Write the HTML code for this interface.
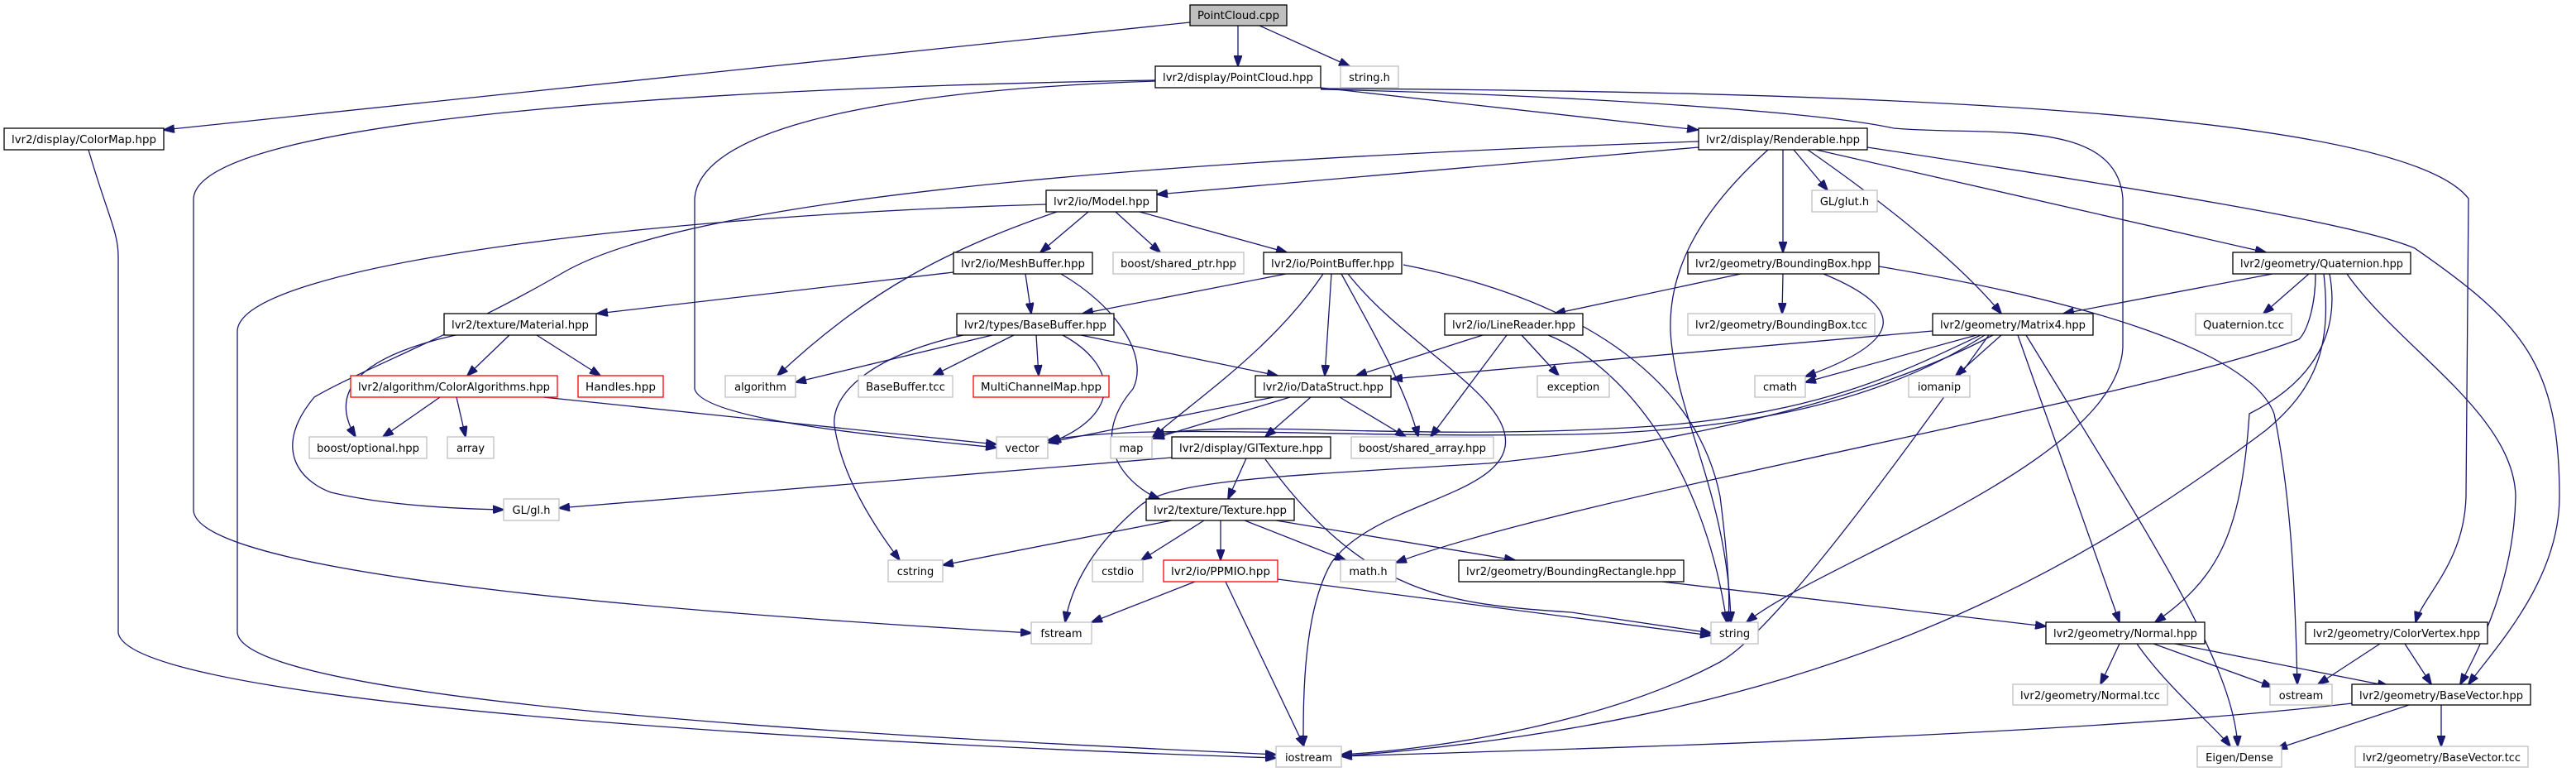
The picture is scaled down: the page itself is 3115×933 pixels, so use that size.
<!DOCTYPE html>
<html><head><meta charset="utf-8"><style>
html,body{margin:0;padding:0;background:#fff;}
svg{display:block;}
text{font-family:"DejaVu Sans","Liberation Sans",sans-serif;font-size:13px;fill:#000;}
.e{fill:none;stroke:#191970;stroke-width:1.3;marker-end:url(#a);}
</style></head><body>
<svg width="3115" height="933" viewBox="0 0 3115 933" xmlns="http://www.w3.org/2000/svg">
<defs><marker id="a" markerUnits="userSpaceOnUse" markerWidth="14" markerHeight="10" refX="13" refY="5" orient="auto"><path d="M0,0 L14,5 L0,10z" fill="#191970" stroke="#191970"/></marker></defs>
<g>
<path class="e" d="M1439,27 L198,157"/>
<path class="e" d="M1497,31 L1497,80"/>
<path class="e" d="M1523,31 L1632,80"/>
<path class="e" d="M1597,106 L2053,157"/>
<path class="e" d="M1397,97 C900,105 240,140 234,240 L234,617 C240,700 900,745 1247,765"/>
<path class="e" d="M1397,98 C1000,112 845,170 840,240 L840,470 C850,510 1100,530 1205,541"/>
<path class="e" d="M1597,108 C1900,115 2200,135 2290,155 C2400,165 2560,140 2567,240 L2567,420 C2560,560 2200,680 2112,752"/>
<path class="e" d="M1597,107 C2200,110 2900,130 2985,240 L2982,600 C2980,680 2930,720 2921,752"/>
<path class="e" d="M2054,178 L1399,235"/>
<path class="e" d="M2054,171 C1500,190 850,230 680,330 C560,400 430,450 380,480 C330,540 360,580 400,595 C470,612 560,615 609,616"/>
<path class="e" d="M1265,247 C800,260 290,320 287,400 L287,765 C300,860 1300,900 1543,912"/>
<path class="e" d="M107,181 C130,260 143,280 143,310 L143,765 C160,860 1200,905 1543,916"/>
<path class="e" d="M2156,181 L2156,305"/>
<path class="e" d="M2169,181 L2210,230"/>
<path class="e" d="M2186,181 C2300,260 2380,330 2420,379"/>
<path class="e" d="M2196,181 L2740,305"/>
<path class="e" d="M2258,178 C2600,230 2850,270 2920,300 C3050,390 3095,440 3095,600 C3095,700 3020,780 2985,827"/>
<path class="e" d="M2138,181 C2050,260 2018,330 2020,400 C2025,500 2090,600 2093,752"/>
<path class="e" d="M1316,256 L1258,305"/>
<path class="e" d="M1349,256 L1403,305"/>
<path class="e" d="M1378,256 L1556,305"/>
<path class="e" d="M1278,256 C1150,300 1050,350 940,454"/>
<path class="e" d="M1153,329 L722,379"/>
<path class="e" d="M1240,331 L1247,379"/>
<path class="e" d="M1283,331 C1350,370 1390,430 1370,470 C1310,540 1370,590 1402,603"/>
<path class="e" d="M1200,405 L962,462"/>
<path class="e" d="M1226,405 L1128,454"/>
<path class="e" d="M1253,405 L1256,454"/>
<path class="e" d="M1285,405 C1350,440 1360,500 1270,535"/>
<path class="e" d="M1307,405 L1545,454"/>
<path class="e" d="M1165,405 C1050,430 1000,480 1010,520 C1020,580 1060,640 1088,677"/>
<path class="e" d="M1555,331 L1309,379"/>
<path class="e" d="M1600,331 C1540,420 1450,480 1394,528"/>
<path class="e" d="M1610,331 L1602,454"/>
<path class="e" d="M1622,331 C1660,400 1700,470 1715,528"/>
<path class="e" d="M1630,331 C1700,420 1830,480 1820,540 C1810,600 1660,610 1610,680 C1575,740 1576,850 1576,902"/>
<path class="e" d="M1697,320 C1900,360 2050,450 2080,600 C2090,680 2092,720 2090,752"/>
<path class="e" d="M616,405 L565,454"/>
<path class="e" d="M649,405 L726,454"/>
<path class="e" d="M551,405 C440,430 395,470 430,528"/>
<path class="e" d="M532,480 L463,528"/>
<path class="e" d="M552,480 L563,528"/>
<path class="e" d="M657,480 L1205,537"/>
<path class="e" d="M1540,480 L1267,535"/>
<path class="e" d="M1560,480 L1395,530"/>
<path class="e" d="M1585,480 L1530,528"/>
<path class="e" d="M1620,480 L1700,528"/>
<path class="e" d="M1793,405 L1640,454"/>
<path class="e" d="M1822,405 L1730,528"/>
<path class="e" d="M1840,405 L1885,454"/>
<path class="e" d="M1872,405 C1960,440 2060,560 2088,752"/>
<path class="e" d="M2105,331 L1880,379"/>
<path class="e" d="M2156,331 L2155,379"/>
<path class="e" d="M2205,331 C2300,370 2310,410 2183,455"/>
<path class="e" d="M2272,322 C2500,360 2720,420 2750,500 C2770,600 2775,700 2778,827"/>
<path class="e" d="M1417,553 L676,614"/>
<path class="e" d="M1507,554 L1485,603"/>
<path class="e" d="M1530,555 C1650,720 1750,730 1900,740 C2000,755 2050,762 2069,765"/>
<path class="e" d="M1417,629 L1140,683"/>
<path class="e" d="M1456,629 L1380,677"/>
<path class="e" d="M1476,629 L1476,677"/>
<path class="e" d="M1505,629 L1627,677"/>
<path class="e" d="M1543,629 L1832,677"/>
<path class="e" d="M1445,703 L1320,752"/>
<path class="e" d="M1482,703 L1577,902"/>
<path class="e" d="M1545,700 L2069,768"/>
<path class="e" d="M2010,703 L2474,757"/>
<path class="e" d="M2337,400 L1683,458"/>
<path class="e" d="M2390,405 L2183,462"/>
<path class="e" d="M2395,405 C2300,450 2200,500 2000,515 C1700,535 1500,505 1395,526"/>
<path class="e" d="M2400,405 C2300,470 2150,520 1900,525 C1600,530 1400,510 1267,532"/>
<path class="e" d="M2410,405 C2250,490 2000,540 1800,560 C1550,575 1420,580 1380,610 C1320,660 1295,710 1288,752"/>
<path class="e" d="M2420,405 L2365,454"/>
<path class="e" d="M2405,405 C2300,550 2150,760 2080,800 C1950,870 1750,905 1622,912"/>
<path class="e" d="M2440,405 L2563,752"/>
<path class="e" d="M2450,405 C2600,650 2700,800 2706,902"/>
<path class="e" d="M2748,331 L2495,379"/>
<path class="e" d="M2792,331 L2737,379"/>
<path class="e" d="M2800,331 C2800,370 2790,400 2780,410 C2600,480 1900,600 1688,680"/>
<path class="e" d="M2810,331 C2820,420 2800,470 2740,520 C2500,700 2200,870 1622,914"/>
<path class="e" d="M2817,331 C2830,400 2800,460 2720,500 C2710,650 2680,700 2606,752"/>
<path class="e" d="M2838,331 C2900,420 3040,500 3042,600 C3040,700 3000,780 2975,827"/>
<path class="e" d="M2563,778 L2540,827"/>
<path class="e" d="M2584,778 C2620,830 2680,880 2697,902"/>
<path class="e" d="M2604,778 L2748,830"/>
<path class="e" d="M2630,778 L2888,829"/>
<path class="e" d="M2878,778 L2803,827"/>
<path class="e" d="M2908,778 L2940,827"/>
<path class="e" d="M2844,850 C2500,890 1900,905 1622,914"/>
<path class="e" d="M2913,852 L2753,905"/>
<path class="e" d="M2952,852 L2952,902"/>
</g>
<g stroke-width="1.3">
<rect x="1439" y="6" width="117" height="25" fill="#bfbfbf" stroke="#000"/><text x="1497.5" y="23" text-anchor="middle" textLength="99" lengthAdjust="spacingAndGlyphs">PointCloud.cpp</text>
<rect x="5" y="155" width="193" height="26" fill="#fff" stroke="#000"/><text x="101.5" y="173" text-anchor="middle" textLength="175" lengthAdjust="spacingAndGlyphs">lvr2/display/ColorMap.hpp</text>
<rect x="1397" y="80" width="200" height="26" fill="#fff" stroke="#000"/><text x="1497" y="98" text-anchor="middle" textLength="182" lengthAdjust="spacingAndGlyphs">lvr2/display/PointCloud.hpp</text>
<rect x="2054" y="155" width="204" height="26" fill="#fff" stroke="#000"/><text x="2156" y="173" text-anchor="middle" textLength="186" lengthAdjust="spacingAndGlyphs">lvr2/display/Renderable.hpp</text>
<rect x="1265" y="230" width="134" height="26" fill="#fff" stroke="#000"/><text x="1332" y="248" text-anchor="middle" textLength="116" lengthAdjust="spacingAndGlyphs">lvr2/io/Model.hpp</text>
<rect x="1153" y="305" width="168" height="26" fill="#fff" stroke="#000"/><text x="1237" y="323" text-anchor="middle" textLength="150" lengthAdjust="spacingAndGlyphs">lvr2/io/MeshBuffer.hpp</text>
<rect x="1528" y="305" width="167" height="26" fill="#fff" stroke="#000"/><text x="1611.5" y="323" text-anchor="middle" textLength="149" lengthAdjust="spacingAndGlyphs">lvr2/io/PointBuffer.hpp</text>
<rect x="2041" y="305" width="231" height="26" fill="#fff" stroke="#000"/><text x="2156.5" y="323" text-anchor="middle" textLength="213" lengthAdjust="spacingAndGlyphs">lvr2/geometry/BoundingBox.hpp</text>
<rect x="2700" y="305" width="215" height="26" fill="#fff" stroke="#000"/><text x="2807.5" y="323" text-anchor="middle" textLength="197" lengthAdjust="spacingAndGlyphs">lvr2/geometry/Quaternion.hpp</text>
<rect x="537" y="379" width="184" height="26" fill="#fff" stroke="#000"/><text x="629" y="397" text-anchor="middle" textLength="166" lengthAdjust="spacingAndGlyphs">lvr2/texture/Material.hpp</text>
<rect x="1157" y="379" width="190" height="26" fill="#fff" stroke="#000"/><text x="1252" y="397" text-anchor="middle" textLength="172" lengthAdjust="spacingAndGlyphs">lvr2/types/BaseBuffer.hpp</text>
<rect x="1747" y="379" width="167" height="26" fill="#fff" stroke="#000"/><text x="1830.5" y="397" text-anchor="middle" textLength="149" lengthAdjust="spacingAndGlyphs">lvr2/io/LineReader.hpp</text>
<rect x="2337" y="379" width="194" height="26" fill="#fff" stroke="#000"/><text x="2434" y="397" text-anchor="middle" textLength="176" lengthAdjust="spacingAndGlyphs">lvr2/geometry/Matrix4.hpp</text>
<rect x="1518" y="454" width="164" height="26" fill="#fff" stroke="#000"/><text x="1600" y="472" text-anchor="middle" textLength="146" lengthAdjust="spacingAndGlyphs">lvr2/io/DataStruct.hpp</text>
<rect x="1417" y="528" width="192" height="26" fill="#fff" stroke="#000"/><text x="1513" y="546" text-anchor="middle" textLength="174" lengthAdjust="spacingAndGlyphs">lvr2/display/GlTexture.hpp</text>
<rect x="1386" y="603" width="179" height="26" fill="#fff" stroke="#000"/><text x="1475.5" y="621" text-anchor="middle" textLength="161" lengthAdjust="spacingAndGlyphs">lvr2/texture/Texture.hpp</text>
<rect x="1764" y="677" width="272" height="26" fill="#fff" stroke="#000"/><text x="1900" y="695" text-anchor="middle" textLength="254" lengthAdjust="spacingAndGlyphs">lvr2/geometry/BoundingRectangle.hpp</text>
<rect x="2474" y="752" width="192" height="26" fill="#fff" stroke="#000"/><text x="2570" y="770" text-anchor="middle" textLength="174" lengthAdjust="spacingAndGlyphs">lvr2/geometry/Normal.hpp</text>
<rect x="2788" y="752" width="220" height="26" fill="#fff" stroke="#000"/><text x="2898" y="770" text-anchor="middle" textLength="202" lengthAdjust="spacingAndGlyphs">lvr2/geometry/ColorVertex.hpp</text>
<rect x="2844" y="827" width="216" height="25" fill="#fff" stroke="#000"/><text x="2952" y="845" text-anchor="middle" textLength="198" lengthAdjust="spacingAndGlyphs">lvr2/geometry/BaseVector.hpp</text>
<rect x="424" y="454" width="250" height="26" fill="#fff" stroke="#ff0000"/><text x="549" y="472" text-anchor="middle" textLength="232" lengthAdjust="spacingAndGlyphs">lvr2/algorithm/ColorAlgorithms.hpp</text>
<rect x="699" y="454" width="103" height="26" fill="#fff" stroke="#ff0000"/><text x="750.5" y="472" text-anchor="middle" textLength="85" lengthAdjust="spacingAndGlyphs">Handles.hpp</text>
<rect x="1177" y="454" width="164" height="26" fill="#fff" stroke="#ff0000"/><text x="1259" y="472" text-anchor="middle" textLength="146" lengthAdjust="spacingAndGlyphs">MultiChannelMap.hpp</text>
<rect x="1407" y="677" width="138" height="26" fill="#fff" stroke="#ff0000"/><text x="1476" y="695" text-anchor="middle" textLength="120" lengthAdjust="spacingAndGlyphs">lvr2/io/PPMIO.hpp</text>
<g fill="#fff" stroke="#bfbfbf">
<rect x="1621" y="80" width="70" height="26"/>
<rect x="1346" y="305" width="158" height="26"/>
<rect x="2191" y="230" width="79" height="26"/>
<rect x="2041" y="379" width="226" height="26"/>
<rect x="2655" y="379" width="116" height="26"/>
<rect x="877" y="454" width="85" height="26"/>
<rect x="1038" y="454" width="114" height="26"/>
<rect x="1859" y="454" width="87" height="26"/>
<rect x="2122" y="454" width="61" height="26"/>
<rect x="2308" y="454" width="74" height="26"/>
<rect x="374" y="528" width="142" height="26"/>
<rect x="541" y="528" width="56" height="26"/>
<rect x="1205" y="528" width="62" height="26"/>
<rect x="1343" y="528" width="50" height="26"/>
<rect x="1634" y="528" width="172" height="26"/>
<rect x="609" y="603" width="67" height="26"/>
<rect x="1074" y="677" width="66" height="26"/>
<rect x="1321" y="677" width="61" height="26"/>
<rect x="1621" y="677" width="67" height="26"/>
<rect x="1247" y="752" width="73" height="26"/>
<rect x="2069" y="752" width="57" height="26"/>
<rect x="2434" y="827" width="187" height="25"/>
<rect x="2745" y="827" width="75" height="25"/>
<rect x="1543" y="902" width="79" height="25"/>
<rect x="2657" y="902" width="102" height="25"/>
<rect x="2848" y="902" width="209" height="25"/>
</g>
<g text-anchor="middle">
<text x="1656" y="98">string.h</text>
<text x="1425" y="323" textLength="140" lengthAdjust="spacingAndGlyphs">boost/shared_ptr.hpp</text>
<text x="2230.5" y="248">GL/glut.h</text>
<text x="2154" y="397" textLength="208" lengthAdjust="spacingAndGlyphs">lvr2/geometry/BoundingBox.tcc</text>
<text x="2713" y="397" textLength="98" lengthAdjust="spacingAndGlyphs">Quaternion.tcc</text>
<text x="919.5" y="472">algorithm</text>
<text x="1095" y="472" textLength="96" lengthAdjust="spacingAndGlyphs">BaseBuffer.tcc</text>
<text x="1902.5" y="472">exception</text>
<text x="2152.5" y="472">cmath</text>
<text x="2345" y="472">iomanip</text>
<text x="445" y="546" textLength="124" lengthAdjust="spacingAndGlyphs">boost/optional.hpp</text>
<text x="569" y="546">array</text>
<text x="1236" y="546">vector</text>
<text x="1368" y="546">map</text>
<text x="1720" y="546" textLength="154" lengthAdjust="spacingAndGlyphs">boost/shared_array.hpp</text>
<text x="642.5" y="621">GL/gl.h</text>
<text x="1107" y="695">cstring</text>
<text x="1351.5" y="695">cstdio</text>
<text x="1654.5" y="695">math.h</text>
<text x="1283.5" y="770">fstream</text>
<text x="2097.5" y="770">string</text>
<text x="2527.5" y="845" textLength="169" lengthAdjust="spacingAndGlyphs">lvr2/geometry/Normal.tcc</text>
<text x="2782.5" y="845">ostream</text>
<text x="1582.5" y="920">iostream</text>
<text x="2708" y="920">Eigen/Dense</text>
<text x="2952.5" y="920" textLength="191" lengthAdjust="spacingAndGlyphs">lvr2/geometry/BaseVector.tcc</text>
</g>
</g>
</svg>
</body></html>
